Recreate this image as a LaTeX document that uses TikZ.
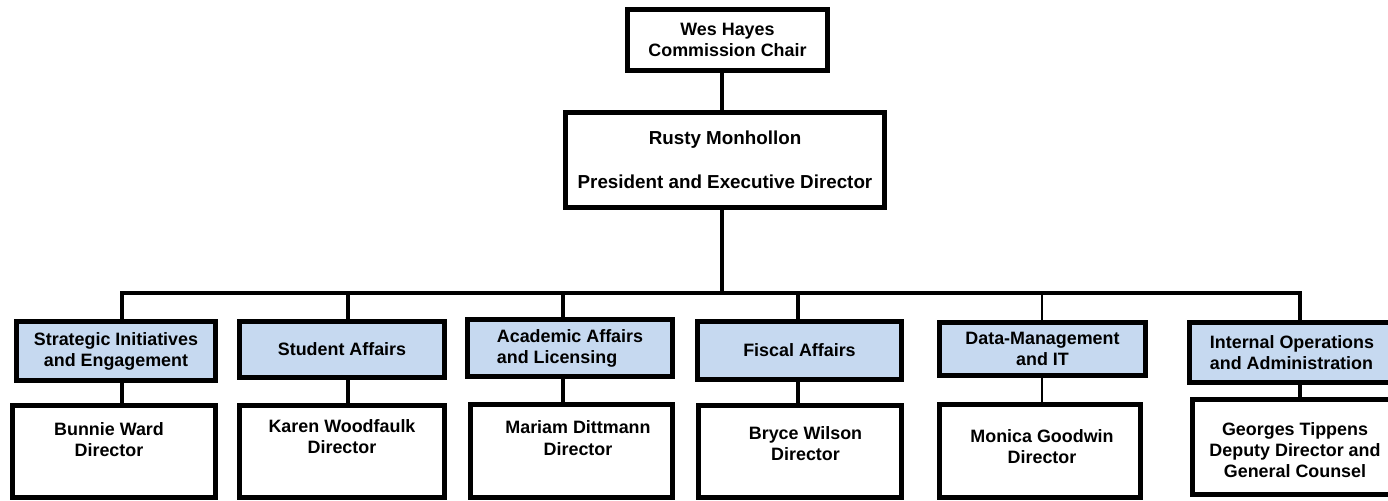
\documentclass[tikz,border=0pt]{standalone}
\usepackage{fontspec}
\setmainfont{Liberation Sans}
\definecolor{unitblue}{RGB}{198,217,240}
\begin{document}
\begin{tikzpicture}[x=0.5pt,y=-0.5pt,
  lbl/.style={font=\fontsize{8.95}{10.6}\selectfont\bfseries, text=black, inner sep=0pt},
  box/.style={draw=black, line width=2.6pt, fill=white, inner sep=0pt, lbl},
  unit/.style={box, fill=unitblue},
  conn/.style={draw=black, line width=2pt},
  thinconn/.style={draw=black, line width=0.8pt}
]
\clip (0,0) rectangle (1388,500);
\fill[white] (0,0) rectangle (1388,500);

% top boxes
\node[box, minimum width=100pt, minimum height=30.5pt, align=center] (chair) at (727.5,40) {Wes Hayes\\Commission Chair};
\node[box, minimum width=159.5pt, minimum height=47.5pt, align=center, font=\fontsize{9.4}{11}\selectfont\bfseries] (pres) at (725,160) {Rusty Monhollon\\[11pt]President and Executive Director};

% bus coordinates
\coordinate (bus) at (722,293);
\coordinate (d1) at (122,293);
\coordinate (d2) at (348,293);
\coordinate (d3) at (563,293);
\coordinate (d4) at (798,293);
\coordinate (d5) at (1042,293);
\coordinate (d6) at (1300,293);

% unit boxes
\node[unit, minimum width=99.5pt, minimum height=29.5pt, align=center] (b1) at (116,351) {Strategic Initiatives\\and Engagement};
\node[unit, minimum width=102.5pt, minimum height=28pt, align=center] (b2) at (342,349.5) {Student Affairs};
\node[unit, minimum width=102.5pt, minimum height=28.5pt, align=left] (b3) at (570,348) {Academic Affairs\\and Licensing};
\node[unit, minimum width=102pt, minimum height=29pt, align=center] (b4) at (799.5,350.5) {Fiscal Affairs};
\node[unit, minimum width=103pt, minimum height=26.5pt, align=center] (b5) at (1042.5,349) {Data-Management\\and IT};
\node[unit, minimum width=102.5pt, minimum height=30pt, align=left] (b6) at (1292,352.5) {Internal Operations\\and Administration};

% director boxes
\node[box, minimum width=101.5pt, minimum height=46pt] (w1) at (114,451.5) {};
\node[box, minimum width=102.5pt, minimum height=46pt] (w2) at (342,451.5) {};
\node[box, minimum width=101pt, minimum height=46.5pt] (w3) at (571.5,451) {};
\node[box, minimum width=101.5pt, minimum height=46pt] (w4) at (800,451.5) {};
\node[box, minimum width=100.5pt, minimum height=46.5pt] (w5) at (1040,451) {};
\node[box, minimum width=102.5pt, minimum height=47.5pt] (w6) at (1295,447) {};

\node[lbl, align=center] (w1t) at (109,439.5) {Bunnie Ward\\Director};
\node[lbl, align=center] (w2t) at (342,436.5) {Karen Woodfaulk\\Director};
\node[lbl, align=center] (w3t) at (578,438) {Mariam Dittmann\\Director};
\node[lbl, align=center] (w4t) at (805.5,443.5) {Bryce Wilson\\Director};
\node[lbl, align=center] (w5t) at (1042,446.5) {Monica Goodwin\\Director};
\node[lbl, align=center] (w6t) at (1295,450) {Georges Tippens\\Deputy Director and\\General Counsel};

% connectors
\draw[conn] (chair.south -| bus) -- (pres.north -| bus);
\draw[conn] (pres.south -| bus) -- (bus);
\draw[conn, line cap=rect] (d1) -- (d6);
\draw[conn] (d1) -- (d1 |- b1.north);
\draw[conn] (d2) -- (d2 |- b2.north);
\draw[conn] (d3) -- (d3 |- b3.north);
\draw[conn] (d4) -- (d4 |- b4.north);
\draw[thinconn] (d5) -- (d5 |- b5.north);
\draw[conn] (d6) -- (d6 |- b6.north);

\draw[conn] (b1.south -| d1) -- (w1.north -| d1);
\draw[conn] (b2.south -| d2) -- (w2.north -| d2);
\draw[conn] (b3.south -| d3) -- (w3.north -| d3);
\draw[conn] (b4.south -| d4) -- (w4.north -| d4);
\draw[thinconn] (b5.south -| d5) -- (w5.north -| d5);
\draw[conn] (b6.south -| d6) -- (w6.north -| d6);
\end{tikzpicture}
\end{document}
